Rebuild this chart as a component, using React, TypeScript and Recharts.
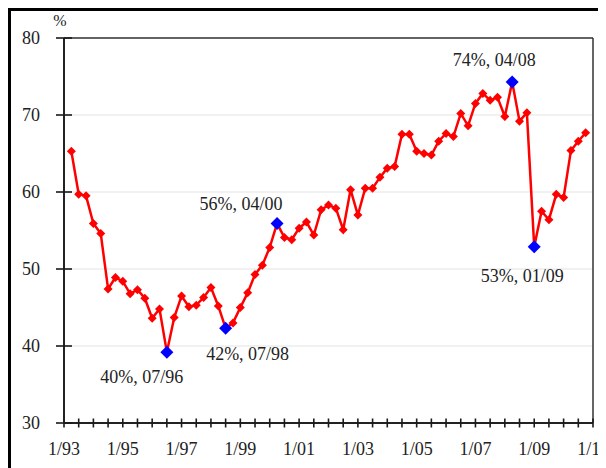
import React from 'react';
import { LineChart, Line, XAxis, YAxis, CartesianGrid, ReferenceLine } from 'recharts';

// Quarterly observation dates (MM/YY)
const dates = [
  "04/93","07/93","10/93",
  "01/94","04/94","07/94","10/94",
  "01/95","04/95","07/95","10/95",
  "01/96","04/96","07/96","10/96",
  "01/97","04/97","07/97","10/97",
  "01/98","04/98","07/98","10/98",
  "01/99","04/99","07/99","10/99",
  "01/00","04/00","07/00","10/00",
  "01/01","04/01","07/01","10/01",
  "01/02","04/02","07/02","10/02",
  "01/03","04/03","07/03","10/03",
  "01/04","04/04","07/04","10/04",
  "01/05","04/05","07/05","10/05",
  "01/06","04/06","07/06","10/06",
  "01/07","04/07","07/07","10/07",
  "01/08","04/08","07/08","10/08",
  "01/09","04/09","07/09","10/09",
  "01/10","04/10","07/10","10/10",
];

// Percent values
const values = [
  65.3, 59.7, 59.5,
  55.9, 54.6, 47.4, 48.9,
  48.4, 46.8, 47.3, 46.2,
  43.6, 44.8, 39.2, 43.7,
  46.5, 45.1, 45.3, 46.3,
  47.6, 45.2, 42.3, 43.0,
  45.0, 46.9, 49.3, 50.5,
  52.8, 55.9, 54.1, 53.8,
  55.3, 56.1, 54.4, 57.7,
  58.3, 57.9, 55.1, 60.3,
  57.0, 60.5, 60.5, 61.9,
  63.1, 63.3, 67.5, 67.5,
  65.3, 65.0, 64.8, 66.6,
  67.6, 67.2, 70.2, 68.6,
  71.5, 72.8, 71.9, 72.3,
  69.8, 74.3, 69.2, 70.3,
  52.9, 57.5, 56.4, 59.7,
  59.3, 65.4, 66.6, 67.7,
];

const highlightDates = ["07/96", "07/98", "04/00", "04/08", "01/09"];
const highlightLabels = ["40%, 07/96", "42%, 07/98", "56%, 04/00", "74%, 04/08", "53%, 01/09"];

const xTickLabels = ["1/93", "1/95", "1/97", "1/99", "1/01", "1/03", "1/05", "1/07", "1/09", "1/11"];
const yTicks = [30, 40, 50, 60, 70, 80];

// styling / placement (not data)
const labelOffsets: Record<string, [number, number]> = {
  "07/96": [-25, 31],
  "07/98": [22, 32],
  "04/00": [-36, -14],
  "04/08": [-18, -16],
  "01/09": [-12, 35],
};

const FONT = '"Liberation Serif", "Times New Roman", serif';
const TEXT = '#222';
const AXIS = '#222';
const TICKC = '#1a1a1a';
const X_TICK = 9;
const Y_TICK = 16;

const toMonths = (d: string) => {
  const [mm, yy] = d.split('/').map((s) => parseInt(s, 10));
  const year = yy < 50 ? 2000 + yy : 1900 + yy;
  return (year - 1993) * 12 + (mm - 1);
};

const data = dates.map((d, i) => ({ date: d, t: toMonths(d), v: values[i] }));

const xTicks: number[] = [];
for (let m = 0; m <= (xTickLabels.length - 1) * 24; m += 6) xTicks.push(m);
const xMax = (xTickLabels.length - 1) * 24;

const xTickFormatter = (v: number) => (v % 24 === 0 ? xTickLabels[v / 24] : '');

const Dot = (props: any) => {
  const { cx, cy, index, payload } = props;
  if (cx == null || cy == null) return <g key={`d-${index}`} />;
  const hi = highlightDates.indexOf(payload.date);
  if (hi >= 0) {
    const h = 6.5;
    const [dx, dy] = labelOffsets[payload.date] || [0, -14];
    return (
      <g key={`d-${index}`}>
        <polygon
          points={`${cx},${cy - h} ${cx + h},${cy} ${cx},${cy + h} ${cx - h},${cy}`}
          fill="#0000FF"
        />
        <text x={cx + dx} y={cy + dy} textAnchor="middle" fontFamily={FONT} fontSize={18} fill={TEXT}>
          {highlightLabels[hi]}
        </text>
      </g>
    );
  }
  const h = 4.5;
  return (
    <polygon
      key={`d-${index}`}
      points={`${cx},${cy - h} ${cx + h},${cy} ${cx},${cy + h} ${cx - h},${cy}`}
      fill="#FF0000"
    />
  );
};

const PercentLabel = (props: any) => {
  const vb = props.viewBox || { x: 0, y: 0, width: 0 };
  return (
    <text
      x={vb.x + vb.width - 4}
      y={vb.y - 12}
      textAnchor="middle"
      fontFamily={FONT}
      fontSize={16}
      fill={TEXT}
    >
      %
    </text>
  );
};

export default function App() {
  return (
    <div style={{ position: 'relative', width: 598, height: 460 }}>
      <style>{`html,body{overflow:hidden}`}</style>
      <LineChart
        width={598}
        height={460}
        data={data}
        margin={{ top: 30, right: 13, bottom: 0, left: 0 }}
      >
        <CartesianGrid vertical={false} stroke="#ececec" strokeWidth={1.5} />
        <XAxis
          dataKey="t"
          type="number"
          domain={[0, xMax]}
          ticks={xTicks}
          interval={0}
          height={45}
          tickSize={X_TICK}
          tickMargin={10}
          tickLine={{ stroke: TICKC, strokeWidth: 1.6, transform: `translate(0,${-X_TICK / 2})` }}
          tickFormatter={xTickFormatter}
          tick={{ fontFamily: FONT, fontSize: 18, fill: TEXT }}
          axisLine={{ stroke: AXIS, strokeWidth: 2 }}
        />
        <YAxis
          type="number"
          domain={[30, 80]}
          ticks={yTicks}
          interval={0}
          width={56}
          tickSize={Y_TICK}
          tickMargin={8}
          tickLine={{ stroke: TICKC, strokeWidth: 1.6, transform: `translate(${Y_TICK / 2},0)` }}
          tick={{ fontFamily: FONT, fontSize: 18, fill: TEXT }}
          axisLine={{ stroke: AXIS, strokeWidth: 2 }}
          label={{ content: <PercentLabel /> }}
        />
        <ReferenceLine y={80} stroke="#333" strokeWidth={1.5} />
        <ReferenceLine x={xMax} stroke="#333" strokeWidth={1.5} />
        <Line
          type="linear"
          dataKey="v"
          stroke="#FF0000"
          strokeWidth={2.5}
          dot={Dot}
          activeDot={false}
          isAnimationActive={false}
        />
      </LineChart>
      <div
        style={{
          position: 'absolute',
          left: 0,
          top: 0,
          width: 598,
          height: 460,
          borderTop: '3px solid #000',
          borderLeft: '3px solid #000',
          boxSizing: 'border-box',
          pointerEvents: 'none',
        }}
      />
    </div>
  );
}
